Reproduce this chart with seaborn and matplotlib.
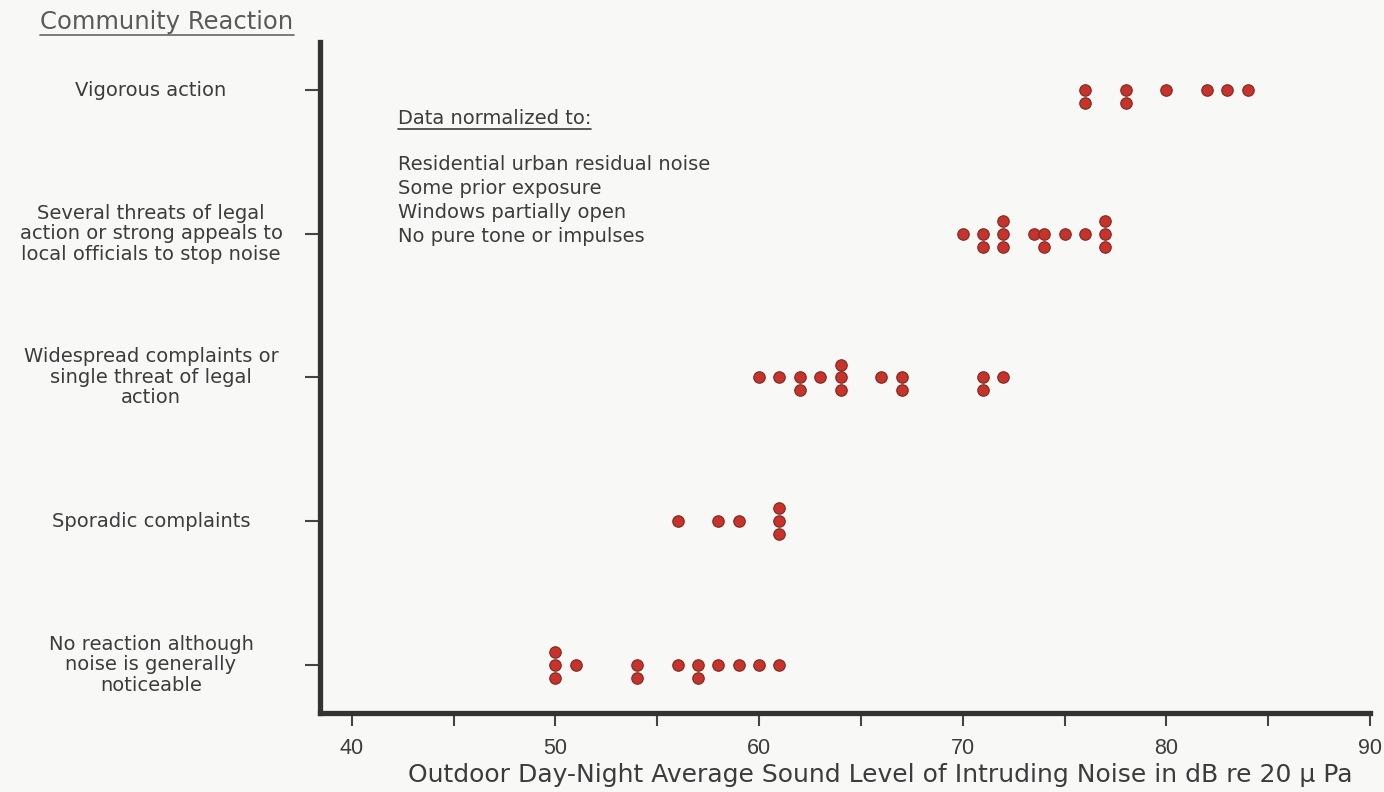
import matplotlib
matplotlib.use("Agg")
import matplotlib.pyplot as plt
import matplotlib.transforms as mtransforms
from matplotlib.lines import Line2D
import numpy as np
import pandas as pd
import seaborn as sns

# ---------------- data ----------------
categories = [
    "No reaction although\nnoise is generally\nnoticeable",
    "Sporadic complaints",
    "Widespread complaints or\nsingle threat of legal\naction",
    "Several threats of legal\naction or strong appeals to\nlocal officials to stop noise",
    "Vigorous action",
]
no_reaction_db = [50, 50, 50, 51, 54, 54, 56, 57, 57, 58, 59, 60, 61]
sporadic_db = [56, 58, 59, 61, 61, 61]
widespread_db = [60, 61, 62, 62, 63, 64, 64, 64, 66, 67, 67, 71, 71, 72]
several_db = [70, 71, 71, 72, 72, 72, 73.5, 74, 74, 75, 76, 77, 77, 77]
vigorous_db = [76, 76, 78, 78, 80, 82, 83, 84]
series = [no_reaction_db, sporadic_db, widespread_db, several_db, vigorous_db]

x_ticks = [40, 50, 60, 70, 80, 90]
x_minor = [45, 55, 65, 75, 85]
x_label = "Outdoor Day-Night Average Sound Level of Intruding Noise in dB re 20 \u03bc Pa"
title = "Community Reaction"
note_head = "Data normalized to:"
note_lines = ["Residential urban residual noise", "Some prior exposure",
              "Windows partially open", "No pure tone or impulses"]

# ---------------- build dot-stack table ----------------
STEP = 0.09
rows = []
for level, vals in enumerate(series):
    xs = pd.Series(vals)
    for xv, grp in xs.groupby(xs):
        n = len(grp)
        offs = {1: [0], 2: [0, -1], 3: [1, 0, -1]}.get(n, list(range(n)))
        for o in offs:
            rows.append({"db": xv, "y": level + o * STEP, "cat": categories[level]})
df = pd.DataFrame(rows)

# ---------------- figure ----------------
sns.set_theme(style="white")
plt.rcParams["font.family"] = ["DejaVu Sans"]
TXT = "#3c3c3c"
BG = "#f8f8f6"

fig = plt.figure(figsize=(13.84, 7.92), dpi=100, facecolor=BG)
W, H = 1384, 792
ax = fig.add_axes([320 / W, 1 - 713 / H, (1370 - 320) / W, (713 - 42) / H])
ax.set_facecolor(BG)

sns.scatterplot(data=df, x="db", y="y", ax=ax, s=68, color="#c5342c",
                edgecolor="#82261c", linewidth=0.8, legend=False, zorder=3)

ax.set_xlim(38.44, 90)
ax.set_ylim(-0.334, 4.334)
ax.set_xticks(x_ticks)
ax.set_xticklabels([str(t) for t in x_ticks], fontsize=15.5, color=TXT,
                   family="Liberation Sans")
ax.set_xticks(x_minor, minor=True)
ax.tick_params(axis="x", which="both", direction="out", length=9, width=1.5,
               color="#444444", pad=9, bottom=True)
ax.set_yticks(range(len(categories)))
ax.set_yticklabels([])
ax.tick_params(axis="y", which="major", direction="out", length=11, width=1.5,
               color="#444444", left=True)
ax.set_xlabel(x_label, fontsize=18, color=TXT, labelpad=4)
ax.xaxis.set_label_coords((880 - 320) / (1370 - 320), -0.075)
ax.set_ylabel("")

for s in ["top", "right"]:
    ax.spines[s].set_visible(False)
for s in ["left", "bottom"]:
    ax.spines[s].set_linewidth(3.8)
    ax.spines[s].set_color("#333333")
    ax.spines[s].set_capstyle("projecting")

# category labels (centered multi-line, to the left of the axis)
trans = mtransforms.blended_transform_factory(fig.transFigure, ax.transData)
for i, c in enumerate(categories):
    ax.text(151 / W, i, c, transform=trans, ha="center", va="center",
            multialignment="center", fontsize=14, color=TXT, linespacing=1.1,
            clip_on=False)

# title + notes
t_title = fig.text(167 / W, 1 - 22 / H, title, ha="center", va="center",
                   fontsize=17.5, color="#5a5a5a")
t_head = ax.text(398 / W, 1 - 118 / H, note_head, transform=fig.transFigure,
                 ha="left", va="center", fontsize=14, color=TXT)
for k, line in enumerate(note_lines):
    ax.text(398 / W, 1 - (165 + 24 * k) / H, line, transform=fig.transFigure,
            ha="left", va="center", fontsize=14, color=TXT)

fig.canvas.draw()
r = fig.canvas.get_renderer()
for t, col in [(t_title, "#666666"), (t_head, TXT)]:
    bb = t.get_window_extent(r)
    y = (bb.y0 - 1) / H
    fig.add_artist(Line2D([bb.x0 / W, bb.x1 / W], [y, y], transform=fig.transFigure,
                          color=col, linewidth=1.2))

fig.savefig("out.png", dpi=100, facecolor=BG)
